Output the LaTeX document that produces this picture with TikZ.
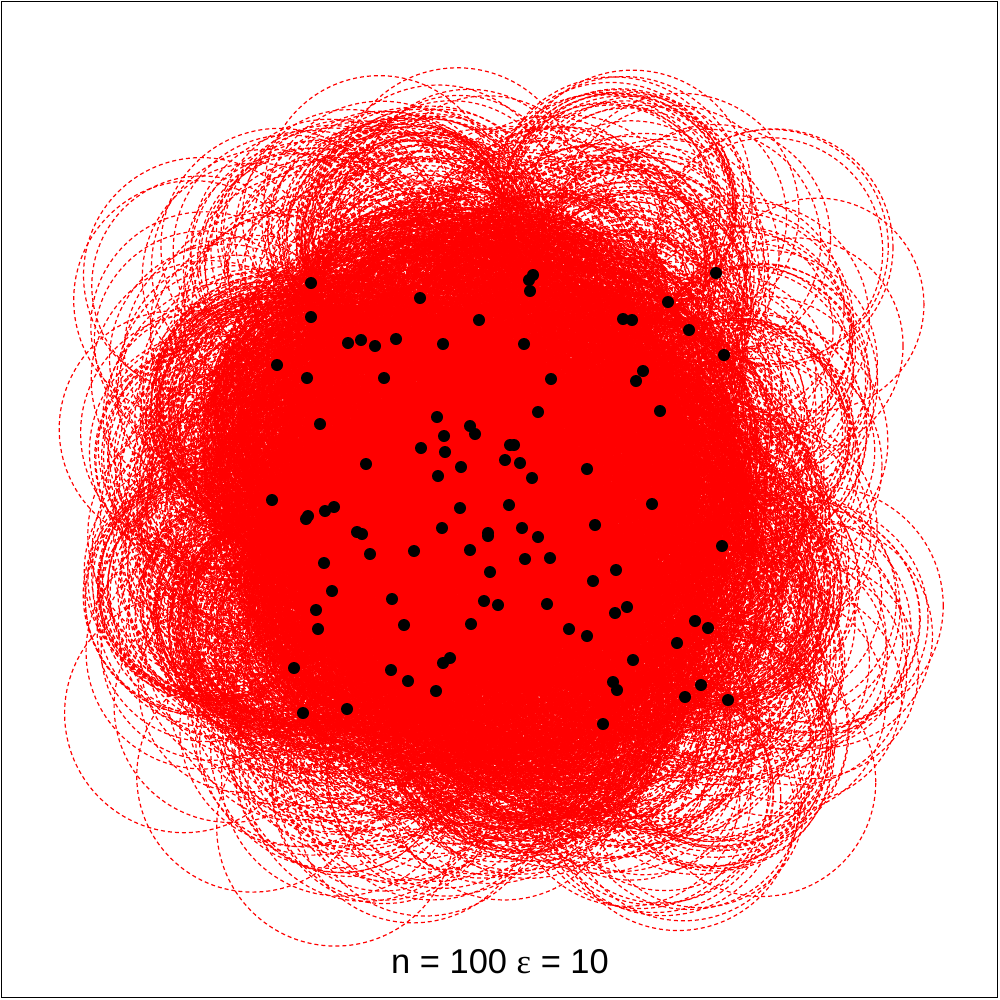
\documentclass[tikz,border=0pt]{standalone}
\usepackage{fontspec}
\setmainfont{Liberation Sans}
\newfontfamily\symfont{Liberation Serif}
\begin{document}
\begin{tikzpicture}[x=0.01cm,y=-0.01cm,
  ring/.style={draw=red, line width=0.34pt, dash pattern=on 1.14pt off 0.85pt},
  dot/.style={circle, fill=black, inner sep=0pt, minimum size=0.12cm},
  frame/.style={draw=black, line width=0.45pt}]
\useasboundingbox (0,0) rectangle (1000,1000);
\pgfmathsetseed{11}
\def\pts{311/283,420/298,311/317,479/320,348/343,361/340,375/346,396/339,443/344,277/365,
307/378,384/378,437/417,470/426,475/434,444/436,320/424,421/448,445/452,461/467,
366/464,438/476,272/500,533/275,529/280,530/291,716/273,668/302,623/319,632/320,
689/330,524/344,724/355,551/379,643/371,636/381,538/412,660/411,510/445,514/445,
505/460,520/463,587/469,532/478,652/504,308/516,306/519,325/511,334/507,460/508,
442/528,488/533,488/536,357/532,362/534,414/551,370/554,470/550,324/563,490/572,
332/591,392/599,484/601,498/605,316/610,318/629,404/625,471/624,294/668,391/670,
450/658,443/663,408/681,436/691,303/713,347/709,509/505,522/528,538/537,595/525,
722/546,525/559,550/558,616/570,593/581,547/604,627/607,615/613,695/621,708/628,
569/629,587/636,677/643,633/660,613/682,617/690,701/685,685/697,728/700,603/724}
\foreach \ax/\ay [count=\i] in \pts {
  \foreach \bx/\by [count=\j] in \pts {
    \ifnum\j>\i
      \pgfmathsetmacro\dx{(\bx-\ax)/100}
      \pgfmathsetmacro\dy{(\by-\ay)/100}
      \pgfmathsetmacro\rq{1.05+0.15*rnd}
      \pgfmathsetmacro\dq{\dx*\dx+\dy*\dy}
      \pgfmathsetmacro\hh{\rq*\rq-\dq/4}
      \ifdim\hh pt>0pt
        \pgfmathsetmacro\kk{sqrt(\hh)/sqrt(\dq)*100}
        \pgfmathsetmacro\mx{(\ax+\bx)/2}
        \pgfmathsetmacro\my{(\ay+\by)/2}
        \pgfmathsetmacro\rr{\rq*28.453}
        \draw[ring] ({\mx-\kk*\dy},{\my+\kk*\dx}) circle[radius=\rr pt];
        \draw[ring] ({\mx+\kk*\dy},{\my-\kk*\dx}) circle[radius=\rr pt];
      \fi
    \fi
  }
}
\foreach \px/\py [count=\i] in \pts { \node[dot] (p\i) at (\px,\py) {}; }
\draw[frame] (1.5,1.5) rectangle (997.5,997.5);
\node (lbl) at (500,962) {\fontsize{9.8}{12}\selectfont n = 100 {\symfont ε} = 10};
\end{tikzpicture}
\end{document}
